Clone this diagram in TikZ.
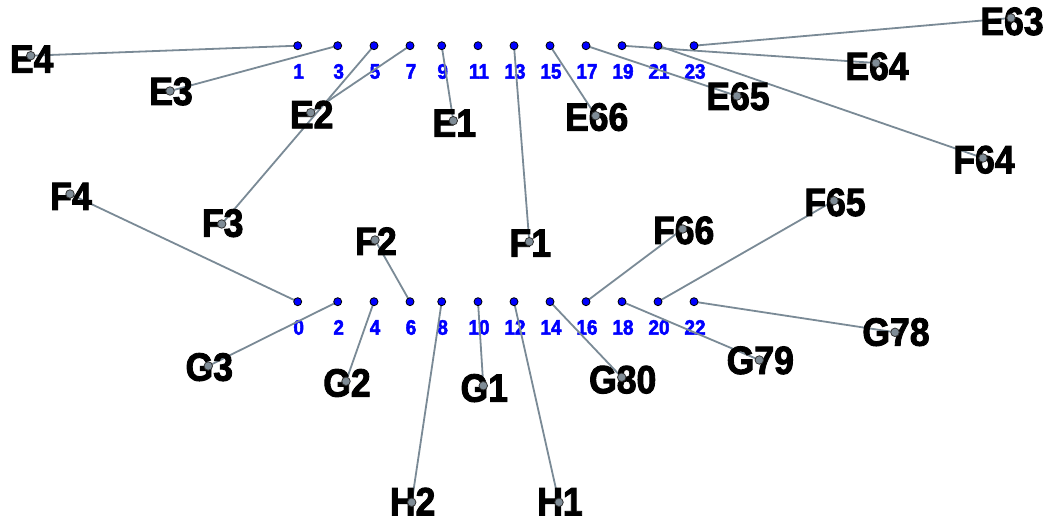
\documentclass[tikz,border=0pt]{standalone}
\usepackage{fontspec}
\setmainfont{Liberation Sans}
\newfontfamily\lblfont{Liberation Sans}[FakeStretch=0.9]
\pgfdeclarelayer{back}
\pgfdeclarelayer{bg}
\pgfsetlayers{back,bg,main}
\definecolor{wirec}{HTML}{7A8A96}
\definecolor{dotgray}{HTML}{7F8C96}
\newcommand\heavy[2]{\special{pdf:literal 2 Tr #1 w}#2\special{pdf:literal 0 Tr}}
\tikzset{
  pin/.style={circle, draw=black, line width=0.8pt, fill=blue, inner sep=0pt, minimum size=8pt},
  pinnum/.style={font=\lblfont\bfseries\fontsize{21}{21}\selectfont, text=blue, anchor=base, inner sep=0pt},
  lbl/.style={font=\lblfont\bfseries\fontsize{39.5}{40}\selectfont, text=black, anchor=base, inner sep=0pt},
  ldot/.style={circle, draw=black!80, line width=0.8pt, fill=dotgray, inner sep=0pt, minimum size=8.5pt},
  wire/.style={draw=wirec, line width=1.8pt},
}
\newcommand\mkpin[3]{\node[pin] (p#1) at (#2,#3) {};
  \begin{pgfonlayer}{back}\node[pinnum] (n#1) at ({#2+1},{#3+33}) {\heavy{0.5}{#1}};\end{pgfonlayer}}
\newcommand\mklab[4][15]{\node[lbl] (t#2) at ({#3+1},{#4+#1}) {\heavy{0.9}{#2}};\node[ldot] (#2) at (#3,#4) {};}
\begin{document}
\begin{tikzpicture}[x=1pt,y=-1pt]
\begin{pgfonlayer}{back}
\fill[white] (0,0) rectangle (1052,521);
\end{pgfonlayer}
\useasboundingbox (0,0) rectangle (1052,521);
% top pins
\mkpin{1}{297.7}{45.7}
\mkpin{3}{337.7}{45.7}
\mkpin{5}{374}{45.7}
\mkpin{7}{410}{45.7}
\mkpin{9}{441.7}{45.7}
\mkpin{11}{478}{45.7}
\mkpin{13}{514}{45.7}
\mkpin{15}{550}{45.7}
\mkpin{17}{586}{45.7}
\mkpin{19}{622}{45.7}
\mkpin{21}{658}{45.7}
\mkpin{23}{694}{45.7}
% bottom pins
\mkpin{0}{297.7}{301.7}
\mkpin{2}{337.7}{301.7}
\mkpin{4}{374}{301.7}
\mkpin{6}{410}{301.7}
\mkpin{8}{441.7}{301.7}
\mkpin{10}{478}{301.7}
\mkpin{12}{514}{301.7}
\mkpin{14}{550}{301.7}
\mkpin{16}{586}{301.7}
\mkpin{18}{622}{301.7}
\mkpin{20}{658}{301.7}
\mkpin{22}{694}{301.7}
% labels
\mklab[17]{E4}{30.7}{55.7}
\mklab[14]{E3}{170}{91}
\mklab[15.6]{E2}{310.7}{112.7}
\mklab[16]{E1}{453.3}{120.7}
\mklab[15]{E66}{595.7}{115.7}
\mklab[14]{E65}{737}{96}
\mklab[17]{E64}{876}{63}
\mklab[17]{E63}{1011}{18}
\mklab[15.3]{F64}{983}{158}
\mklab[16]{F4}{70}{194}
\mklab[12.7]{F3}{221.7}{224}
\mklab[15]{F2}{375}{240}
\mklab[15]{F1}{529.3}{241.7}
\mklab[15]{F66}{682.7}{229}
\mklab[15.3]{F65}{834}{200.7}
\mklab[14.7]{G3}{208.3}{366}
\mklab[15.3]{G2}{346}{381.3}
\mklab[16]{G1}{483.3}{385.7}
\mklab[16]{G80}{621.7}{377.3}
\mklab[14]{G79}{759.3}{360}
\mklab[13.4]{G78}{895}{332.3}
\mklab[13]{H2}{411.7}{502.3}
\mklab[13]{H1}{559}{502.3}
\begin{pgfonlayer}{bg}
\draw[wire] (p1.center) -- (E4.center);
\draw[wire] (p3.center) -- (E3.center);
\draw[wire] (p5.center) -- (F3.center);
\draw[wire] (p7.center) -- (E2.center);
\draw[wire] (p9.center) -- (E1.center);
\draw[wire] (p13.center) -- (F1.center);
\draw[wire] (p15.center) -- (E66.center);
\draw[wire] (p17.center) -- (E65.center);
\draw[wire] (p19.center) -- (E64.center);
\draw[wire] (p21.center) -- (F64.center);
\draw[wire] (p23.center) -- (E63.center);
\draw[wire] (p0.center) -- (F4.center);
\draw[wire] (p2.center) -- (G3.center);
\draw[wire] (p4.center) -- (G2.center);
\draw[wire] (p6.center) -- (F2.center);
\draw[wire] (p8.center) -- (H2.center);
\draw[wire] (p10.center) -- (G1.center);
\draw[wire] (p12.center) -- (H1.center);
\draw[wire] (p14.center) -- (G80.center);
\draw[wire] (p16.center) -- (F66.center);
\draw[wire] (p18.center) -- (G79.center);
\draw[wire] (p20.center) -- (F65.center);
\draw[wire] (p22.center) -- (G78.center);
\end{pgfonlayer}
\end{tikzpicture}
\end{document}
